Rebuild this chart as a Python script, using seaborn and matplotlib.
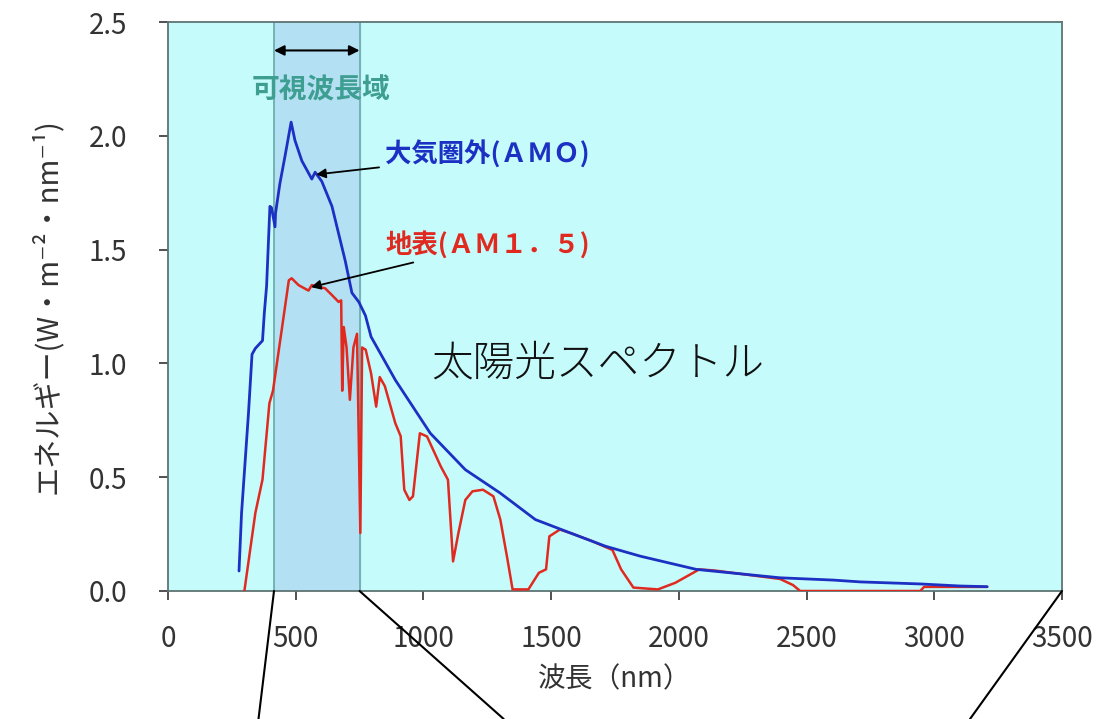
import numpy as np
import pandas as pd
import matplotlib
matplotlib.use('Agg')
import matplotlib.pyplot as plt
import seaborn as sns

# AM0 (outside atmosphere) spectrum
am0_wl = [278, 288, 315, 329, 342, 370, 377, 386, 399, 405, 419, 421, 438, 458,
          482, 497, 524, 563, 576, 602, 642, 668, 694, 720, 747, 773, 795, 890,
          1027, 1164, 1301, 1438, 1575, 1712, 1849, 2068, 2396, 2604, 2710,
          2945, 3100, 3207]
am0_val = [0.088, 0.343, 0.78, 1.04, 1.066, 1.10, 1.22, 1.34, 1.69, 1.685, 1.60,
           1.66, 1.79, 1.91, 2.06, 1.98, 1.89, 1.81, 1.84, 1.80, 1.69, 1.57, 1.45,
           1.31, 1.27, 1.21, 1.117, 0.927, 0.693, 0.533, 0.43, 0.314, 0.255,
           0.197, 0.153, 0.095, 0.058, 0.048, 0.04, 0.031, 0.022, 0.019]

# AM1.5 (ground level) spectrum
am15_wl = [299, 342, 370, 397, 411, 473, 484, 511, 550, 563, 589, 615, 642, 668,
           678, 682, 688, 699, 712, 726, 740, 753, 760, 774, 795, 815, 829, 849,
           890, 911, 925, 945, 959, 986, 1014, 1068, 1096, 1116, 1137, 1164, 1192,
           1233, 1274, 1301, 1329, 1349, 1411, 1452, 1480, 1493, 1534, 1575, 1658,
           1740, 1774, 1822, 1918, 1986, 2080, 2140, 2396, 2447, 2475, 2945, 2960,
           3207]
am15_val = [0.0, 0.343, 0.49, 0.825, 0.88, 1.365, 1.374, 1.344, 1.32, 1.344, 1.337,
            1.33, 1.30, 1.27, 1.277, 0.88, 1.16, 1.07, 0.84, 1.07, 1.13, 0.255,
            1.07, 1.06, 0.956, 0.81, 0.94, 0.90, 0.737, 0.68, 0.445, 0.40, 0.416,
            0.693, 0.679, 0.547, 0.489, 0.13, 0.255, 0.40, 0.438, 0.445, 0.416,
            0.314, 0.139, 0.007, 0.007, 0.08, 0.095, 0.24, 0.27, 0.255, 0.22, 0.18,
            0.095, 0.015, 0.007, 0.036, 0.095, 0.09, 0.053, 0.026, 0.0, 0.0, 0.018,
            0.018]

visible_band = (415, 750)
x_ticks = [0, 500, 1000, 1500, 2000, 2500, 3000, 3500]
y_ticks = [0.0, 0.5, 1.0, 1.5, 2.0, 2.5]

sns.set_style('ticks')
plt.rcParams['font.family'] = ['Noto Sans CJK JP', 'DejaVu Sans']

bg = '#c6fbfb'
band_color = '#b3e0f2'
blue = '#1c30c4'
red = '#e02a20'
teal = '#3e9e92'
spine_col = '#5d7373'
txt_col = '#333333'

fig = plt.figure(figsize=(11.01, 7.19), dpi=100)
ax = fig.add_axes([168 / 1101, 1 - 591 / 719, 894 / 1101, 569 / 719])
ax.set_facecolor(bg)

ax.axvspan(*visible_band, color=band_color, zorder=1)
for edge in visible_band:
    ax.axvline(edge, color='#6aa8a8', lw=1.2, zorder=1.5)

df0 = pd.DataFrame({'wl': am0_wl, 'val': am0_val})
df15 = pd.DataFrame({'wl': am15_wl, 'val': am15_val})
sns.lineplot(data=df15, x='wl', y='val', color=red, lw=1.8, sort=False,
             estimator=None, ax=ax, zorder=3)
sns.lineplot(data=df0, x='wl', y='val', color=blue, lw=2.0, sort=False,
             estimator=None, ax=ax, zorder=4)

ax.set_xlim(0, 3500)
ax.set_ylim(0, 2.5)
ax.set_xticks(x_ticks)
ax.set_yticks(y_ticks)
ax.set_yticklabels([f'{v:.1f}' for v in y_ticks])
ax.tick_params(axis='both', length=6.5, width=1.2, color=txt_col,
               labelsize=20, labelcolor=txt_col)
ax.tick_params(axis='x', pad=17)
ax.tick_params(axis='y', pad=23)

for s in ax.spines.values():
    s.set_color(spine_col)
    s.set_linewidth(1.3)

ax.set_xlabel('波長（nm）', fontsize=20, color=txt_col)
ax.xaxis.set_label_coords(0.5, -0.128)
ax.set_ylabel('エネルギー(W・m⁻²・nm⁻¹)', fontsize=21, color=txt_col)
ax.yaxis.set_label_coords(-0.118, 0.5)

# visible range arrow and label
ax.annotate('', xy=(visible_band[0], 2.375), xytext=(visible_band[1], 2.375),
            arrowprops=dict(arrowstyle='<|-|>', color='black', lw=1.5,
                            shrinkA=0, shrinkB=0, mutation_scale=15), zorder=5)
ax.text(600, 2.2, '可視波長域', color=teal, fontsize=20,
        fontweight='bold', ha='center', va='center', zorder=5)

ax.annotate('大気圏外(ＡＭＯ)', xy=(580, 1.83), xytext=(850, 1.915),
            color=blue, fontsize=19, fontweight='bold', va='center', ha='left',
            arrowprops=dict(arrowstyle='-|>', color='black', lw=1.3,
                            shrinkA=2, shrinkB=0, mutation_scale=14), zorder=6)
ax.annotate('地表(ＡＭ１．５)', xy=(560, 1.335), xytext=(850, 1.522),
            color=red, fontsize=19, fontweight='bold', va='center', ha='left',
            arrowprops=dict(arrowstyle='-|>', color='black', lw=1.3,
                            shrinkA=2, shrinkB=0, mutation_scale=14), zorder=6)

ax.text(1030, 1.0, '太陽光スペクトル', fontsize=30, color='#111111',
        fontweight='light', ha='left', va='center', zorder=5)

# guide lines running off the bottom of the figure
guides = [(visible_band[0], 258.5 / 1101), (visible_band[1], 503.7 / 1101),
          (3500, 970 / 1101)]
for x_data, x_fig in guides:
    ax.annotate('', xy=(x_fig, 0.0), xycoords='figure fraction',
                xytext=(x_data, 0.0), textcoords='data',
                arrowprops=dict(arrowstyle='-', color='black', lw=1.5,
                                shrinkA=0, shrinkB=0), annotation_clip=False)

fig.savefig('out.png', dpi=100)
